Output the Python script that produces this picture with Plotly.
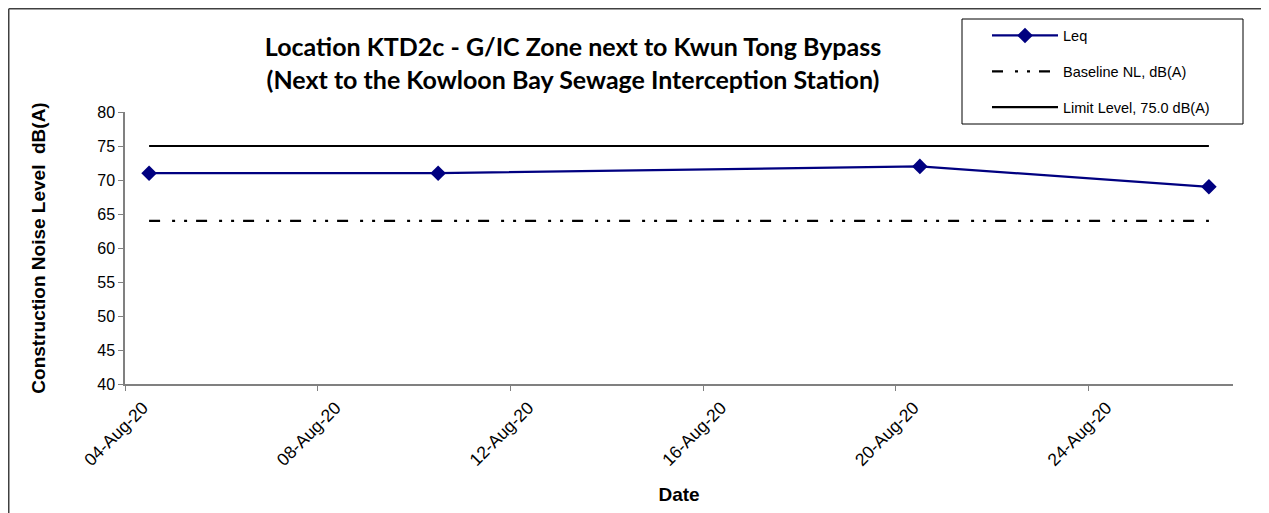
import pandas as pd
import plotly.graph_objects as go

# ---- data ----
dates = ["2020-08-04", "2020-08-10", "2020-08-20", "2020-08-26"]
leq = [71, 71, 72, 69]
baseline = [64, 64, 64, 64]
limit = [75, 75, 75, 75]
y_ticks = [40, 45, 50, 55, 60, 65, 70, 75, 80]
title_lines = ["Location KTD2c - G/IC Zone next to Kwun Tong Bypass",
               "(Next to the Kowloon Bay Sewage Interception Station)"]

# Excel date axis plots points in the middle of each day
x = pd.to_datetime(dates) + pd.Timedelta(hours=12)

# the page body adds an 8px margin; size the figure to fill the rest
OFF = 8
PAGE_W, PAGE_H = 1269, 513
W, H = PAGE_W - OFF, PAGE_H - OFF
PL, PR, PT, PB = 125, 1233, 112, 384          # plot area on the page
L, R, T, B = PL - OFF, PAGE_W - PR, PT - OFF, PAGE_H - PB
pw, ph = PR - PL, PB - PT

def px_x(p):
    return (p - PL) / pw

def px_y(p):
    return (PB - p) / ph

fig = go.Figure()
fig.add_trace(go.Scatter(
    x=x, y=leq, name="Leq", mode="lines+markers",
    line=dict(color="#000080", width=2.2),
    marker=dict(symbol="diamond", size=12, color="#000080"),
    legendgroup="a"))
fig.add_trace(go.Scatter(
    x=x, y=baseline, name="Baseline NL, dB(A)", mode="lines",
    line=dict(color="black", width=2.2, dash="11px,12px,3px,9px,3px,9px"),
    legendgroup="b"))
fig.add_trace(go.Scatter(
    x=x, y=limit, name="Limit Level, 75.0 dB(A)", mode="lines",
    line=dict(color="black", width=2.2),
    legendgroup="c"))

arial = "Arial, Liberation Sans, sans-serif"
title_font = dict(family=arial, size=19, color="black")

fig.update_layout(
    width=W, height=H,
    margin=dict(l=L, r=R, t=T, b=B, autoexpand=False),
    paper_bgcolor="white", plot_bgcolor="white",
    title=dict(
        text="<b>" + "<br>".join(title_lines) + "</b>",
        x=px_x(573), xref="paper", xanchor="center",
        y=1 - (56 - OFF) / H, yref="container", yanchor="top",
        font=dict(family="Lato, Open Sans, sans-serif", size=25, color="black")),
    showlegend=True,
    legend=dict(
        x=px_x(987), y=px_y(19.5), xanchor="left", yanchor="top",
        xref="paper", yref="paper",
        borderwidth=0, bgcolor="rgba(0,0,0,0)",
        font=dict(family=arial, size=14.5, color="black"),
        traceorder="grouped", tracegroupgap=14,
        itemwidth=66),
    xaxis=dict(
        type="date",
        range=["2020-08-04", "2020-08-27"],
        tick0="2020-08-04", dtick=4 * 86400000,
        tickformat="%d-%b-%y", tickangle=-45,
        ticks="outside", ticklen=5, tickcolor="#808080",
        ticklabelshift=18,
        showline=True, linecolor="#808080", linewidth=1.5,
        showgrid=False, zeroline=False,
        tickfont=dict(family=arial, size=17.5, color="black"),
        title=dict(text="<b>Date</b>", standoff=19, font=title_font)),
    yaxis=dict(
        range=[40, 80], tickvals=y_ticks,
        ticks="outside", ticklen=5, tickcolor="#808080",
        showline=True, linecolor="#808080", linewidth=1.5,
        showgrid=False, zeroline=False,
        tickfont=dict(family=arial, size=16, color="black"),
        title=dict(text="<b>Construction Noise Level  dB(A)</b>", standoff=47,
                   font=title_font)),
    shapes=[
        # legend frame
        dict(type="rect", xref="paper", yref="paper",
             x0=px_x(962), x1=px_x(1243), y0=px_y(19), y1=px_y(124),
             line=dict(color="black", width=1), fillcolor="white", layer="above"),
        # outer chart-area border (top and left edges)
        dict(type="line", xref="paper", yref="paper",
             x0=px_x(OFF + 0.75), x1=px_x(PAGE_W + 5),
             y0=px_y(OFF + 0.75), y1=px_y(OFF + 0.75),
             line=dict(color="#404040", width=1.5)),
        dict(type="line", xref="paper", yref="paper",
             x0=px_x(OFF + 0.75), x1=px_x(OFF + 0.75),
             y0=px_y(OFF + 0.75), y1=px_y(PAGE_H + 5),
             line=dict(color="#404040", width=1.5)),
    ],
)

fig.write_html("out.html")
